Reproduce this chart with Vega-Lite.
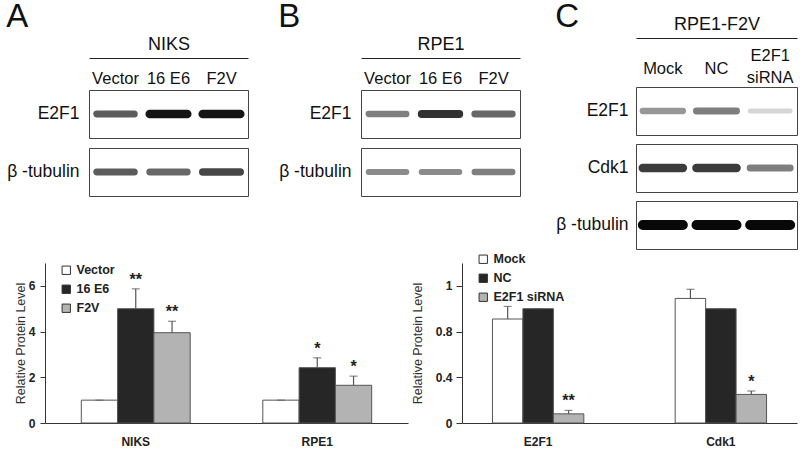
{
  "$schema": "https://vega.github.io/schema/vega-lite/v6.json",
  "padding": {"left": 6, "top": 1, "right": 0, "bottom": 0},
  "config": {
    "font": "Liberation Sans",
    "view": {"stroke": "#444", "strokeWidth": 1},
    "title": {"fontWeight": "normal", "color": "#111"}
  },
  "resolve": {"scale": {"fill": "independent", "stroke": "independent", "strokeWidth": "independent"}, "legend": {"fill": "independent"}},
  "spacing": 3,
  "vconcat": [
    {
      "spacing": 34,
      "resolve": {"scale": {"fill": "independent", "stroke": "independent", "strokeWidth": "independent"}},
      "hconcat": [
        {
          "spacing": 29,
          "hconcat": [
            {
              "title": {"text": "A", "anchor": "start", "fontSize": 33, "fontWeight": "normal", "offset": 1},
              "spacing": 0,
              "vconcat": [
                {
                  "width": 159, "height": 31, "view": {"stroke": null},
                  "data": {"values": [{"lane": "Vector"}, {"lane": "16 E6"}, {"lane": "F2V"}]},
                  "mark": {"type": "text", "fontSize": 16.5, "dy": 5, "color": "#111"},
                  "encoding": {
                    "x": {"field": "lane", "type": "nominal", "sort": null, "scale": {"paddingInner": 0, "paddingOuter": 0},
                      "axis": {"orient": "top", "labels": false, "ticks": false, "domainColor": "#222", "title": "NIKS", "titleFontSize": 18, "titleFontWeight": "normal", "titleColor": "#111", "titlePadding": 5}},
                    "text": {"field": "lane"}
                  }
                },
                {
                  "data": {"values": [
                    {"protein": "E2F1", "lane": "Vector", "intensity": 0.6},
                    {"protein": "E2F1", "lane": "16 E6", "intensity": 0.95},
                    {"protein": "E2F1", "lane": "F2V", "intensity": 0.95},
                    {"protein": "β -tubulin", "lane": "Vector", "intensity": 0.6},
                    {"protein": "β -tubulin", "lane": "16 E6", "intensity": 0.55},
                    {"protein": "β -tubulin", "lane": "F2V", "intensity": 0.7}
                  ]},
                  "facet": {"row": {"field": "protein", "type": "nominal", "sort": ["E2F1", "β -tubulin"], "header": null}},
                  "spacing": {"row": 8},
                  "resolve": {"scale": {"y": "independent"}, "axis": {"y": "independent"}},
                  "spec": {
                    "width": 159, "height": 48,
                    "mark": {"type": "rect", "width": {"band": 0.78}, "height": {"band": 0.08}, "cornerRadius": 2},
                    "encoding": {
                      "x": {"field": "lane", "type": "nominal", "sort": ["Vector", "16 E6", "F2V"], "axis": null, "scale": {"paddingInner": 0, "paddingOuter": 0}},
                      "y": {"field": "protein", "type": "nominal", "axis": {"title": null, "ticks": false, "domain": false, "labelFontSize": 17.5, "labelPadding": 10, "labelColor": "#111"}},
                      "fill": {"field": "intensity", "type": "quantitative", "scale": {"domain": [0, 1], "range": ["#f0f0f0", "#080808"]}, "legend": null},
                      "stroke": {"field": "intensity", "type": "quantitative", "scale": {"domain": [0, 1], "range": ["#f0f0f0", "#080808"]}, "legend": null},
                      "strokeWidth": {"field": "intensity", "type": "quantitative", "scale": {"domain": [0, 1], "range": [0.5, 5]}, "legend": null}
                    }
                  }
                }
              ]
            },
            {
              "title": {"text": "B", "anchor": "start", "fontSize": 33, "fontWeight": "normal", "offset": 1},
              "spacing": 0,
              "vconcat": [
                {
                  "width": 159, "height": 31, "view": {"stroke": null},
                  "data": {"values": [{"lane": "Vector"}, {"lane": "16 E6"}, {"lane": "F2V"}]},
                  "mark": {"type": "text", "fontSize": 16.5, "dy": 5, "color": "#111"},
                  "encoding": {
                    "x": {"field": "lane", "type": "nominal", "sort": null, "scale": {"paddingInner": 0, "paddingOuter": 0},
                      "axis": {"orient": "top", "labels": false, "ticks": false, "domainColor": "#222", "title": "RPE1", "titleFontSize": 18, "titleFontWeight": "normal", "titleColor": "#111", "titlePadding": 5}},
                    "text": {"field": "lane"}
                  }
                },
                {
                  "data": {"values": [
                    {"protein": "E2F1", "lane": "Vector", "intensity": 0.45},
                    {"protein": "E2F1", "lane": "16 E6", "intensity": 0.8},
                    {"protein": "E2F1", "lane": "F2V", "intensity": 0.55},
                    {"protein": "β -tubulin", "lane": "Vector", "intensity": 0.4},
                    {"protein": "β -tubulin", "lane": "16 E6", "intensity": 0.4},
                    {"protein": "β -tubulin", "lane": "F2V", "intensity": 0.45}
                  ]},
                  "facet": {"row": {"field": "protein", "type": "nominal", "sort": ["E2F1", "β -tubulin"], "header": null}},
                  "spacing": {"row": 8},
                  "resolve": {"scale": {"y": "independent"}, "axis": {"y": "independent"}},
                  "spec": {
                    "width": 159, "height": 48,
                    "mark": {"type": "rect", "width": {"band": 0.78}, "height": {"band": 0.08}, "cornerRadius": 2},
                    "encoding": {
                      "x": {"field": "lane", "type": "nominal", "sort": ["Vector", "16 E6", "F2V"], "axis": null, "scale": {"paddingInner": 0, "paddingOuter": 0}},
                      "y": {"field": "protein", "type": "nominal", "axis": {"title": null, "ticks": false, "domain": false, "labelFontSize": 17.5, "labelPadding": 10, "labelColor": "#111"}},
                      "fill": {"field": "intensity", "type": "quantitative", "scale": {"domain": [0, 1], "range": ["#f0f0f0", "#080808"]}, "legend": null},
                      "stroke": {"field": "intensity", "type": "quantitative", "scale": {"domain": [0, 1], "range": ["#f0f0f0", "#080808"]}, "legend": null},
                      "strokeWidth": {"field": "intensity", "type": "quantitative", "scale": {"domain": [0, 1], "range": [0.5, 5]}, "legend": null}
                    }
                  }
                }
              ]
            }
          ]
        },
        {
          "title": {"text": "C", "anchor": "start", "fontSize": 33, "fontWeight": "normal", "offset": -19},
          "spacing": 0,
          "vconcat": [
            {
              "width": 161, "height": 27, "view": {"stroke": null},
              "encoding": {
                "x": {"field": "lane", "type": "nominal", "sort": ["Mock", "NC", "E2F1\nsiRNA"], "scale": {"paddingInner": 0, "paddingOuter": 0},
                  "axis": {"orient": "top", "offset": 20, "labels": false, "ticks": false, "domainColor": "#222", "title": "RPE1-F2V", "titleFontSize": 18, "titleFontWeight": "normal", "titleColor": "#111", "titlePadding": 5}},
                "text": {"field": "lane"}
              },
              "layer": [
                {
                  "data": {"values": [{"lane": "Mock"}, {"lane": "NC"}]},
                  "mark": {"type": "text", "fontSize": 16.5, "dy": -3, "color": "#111"}
                },
                {
                  "data": {"values": [{"lane": "E2F1\nsiRNA"}]},
                  "mark": {"type": "text", "fontSize": 16.5, "dy": -16, "color": "#111", "lineBreak": "\n", "lineHeight": 22}
                }
              ]
            },
            {
              "data": {"values": [
                {"protein": "E2F1", "lane": "Mock", "intensity": 0.35},
                {"protein": "E2F1", "lane": "NC", "intensity": 0.45},
                {"protein": "E2F1", "lane": "E2F1 siRNA", "intensity": 0.1},
                {"protein": "Cdk1", "lane": "Mock", "intensity": 0.75},
                {"protein": "Cdk1", "lane": "NC", "intensity": 0.75},
                {"protein": "Cdk1", "lane": "E2F1 siRNA", "intensity": 0.45},
                {"protein": "β -tubulin", "lane": "Mock", "intensity": 1.0},
                {"protein": "β -tubulin", "lane": "NC", "intensity": 1.0},
                {"protein": "β -tubulin", "lane": "E2F1 siRNA", "intensity": 1.0}
              ]},
              "facet": {"row": {"field": "protein", "type": "nominal", "sort": ["E2F1", "Cdk1", "β -tubulin"], "header": null}},
              "spacing": {"row": 7},
              "resolve": {"scale": {"y": "independent"}, "axis": {"y": "independent"}},
              "spec": {
                "width": 161, "height": 48,
                "mark": {"type": "rect", "width": {"band": 0.82}, "height": {"band": 0.08}, "cornerRadius": 2},
                "encoding": {
                  "x": {"field": "lane", "type": "nominal", "sort": ["Mock", "NC", "E2F1 siRNA"], "axis": null, "scale": {"paddingInner": 0, "paddingOuter": 0}},
                  "y": {"field": "protein", "type": "nominal", "axis": {"title": null, "ticks": false, "domain": false, "labelFontSize": 17.5, "labelPadding": 8, "labelColor": "#111"}},
                  "fill": {"field": "intensity", "type": "quantitative", "scale": {"domain": [0, 1], "range": ["#f0f0f0", "#080808"]}, "legend": null},
                  "stroke": {"field": "intensity", "type": "quantitative", "scale": {"domain": [0, 1], "range": ["#f0f0f0", "#080808"]}, "legend": null},
                  "strokeWidth": {"field": "intensity", "type": "quantitative", "scale": {"domain": [0, 1], "range": [0.5, 6]}, "legend": null}
                }
              }
            }
          ]
        }
      ]
    },
    {
      "spacing": -41,
      "resolve": {"scale": {"fill": "independent"}, "legend": {"fill": "independent"}},
      "hconcat": [
        {
          "width": 319, "height": 160, "view": {"stroke": null},
          "data": {"values": [
            {"key": "NIKS/Vector", "cell": "NIKS", "cond": "Vector", "value": 1.0, "upper": 1.0, "sig": ""},
            {"key": "NIKS/16 E6", "cell": "NIKS", "cond": "16 E6", "value": 5.0, "upper": 5.87, "sig": "**"},
            {"key": "NIKS/F2V", "cell": "NIKS", "cond": "F2V", "value": 3.95, "upper": 4.45, "sig": "**"},
            {"key": "RPE1/Vector", "cell": "RPE1", "cond": "Vector", "value": 1.0, "upper": 1.0, "sig": ""},
            {"key": "RPE1/16 E6", "cell": "RPE1", "cond": "16 E6", "value": 2.42, "upper": 2.85, "sig": "*"},
            {"key": "RPE1/F2V", "cell": "RPE1", "cond": "F2V", "value": 1.65, "upper": 2.05, "sig": "*"}
          ]},
          "encoding": {
            "x": {"field": "key", "type": "nominal",
              "scale": {"type": "band", "domain": ["NIKS/Vector", "NIKS/16 E6", "NIKS/F2V", "gap 1", "gap 2", "RPE1/Vector", "RPE1/16 E6", "RPE1/F2V"], "range": [-44, 319], "paddingInner": 0, "paddingOuter": 1},
              "axis": {"title": null, "ticks": false, "labelAngle": 0, "labelFontSize": 12, "labelFontWeight": "bold", "labelColor": "#222", "labelPadding": 13, "domainColor": "#333",
                "labelExpr": "indexof(datum.value, '/16 E6') >= 0 ? split(datum.value, '/')[0] : ''"}}
          },
          "layer": [
            {
              "mark": {"type": "bar", "stroke": "#555", "strokeWidth": 1},
              "encoding": {
                "y": {"field": "value", "type": "quantitative", "title": "Relative Protein Level", "scale": {"domain": [0, 7]},
                  "axis": {"offset": 44, "values": [0, 1, 2, 3, 4, 5, 6, 7], "grid": false, "tickSize": 5, "labelPadding": 5, "labelFontSize": 12, "labelFontWeight": "bold", "labelColor": "#222", "tickColor": "#333", "domainColor": "#333", "titleFontSize": 12.5, "titleFontWeight": "normal", "titleColor": "#333", "titlePadding": 1}},
                "fill": {"field": "cond", "type": "nominal", "sort": ["Vector", "16 E6", "F2V"],
                  "scale": {"domain": ["Vector", "16 E6", "F2V"], "range": ["#ffffff", "#262626", "#b3b3b3"]},
                  "legend": {"title": null, "orient": "none", "legendX": -29, "legendY": 1, "symbolType": "square", "symbolSize": 70, "symbolStrokeColor": "#333", "symbolStrokeWidth": 1, "labelFontSize": 12.5, "labelFontWeight": "bold", "labelColor": "#222", "rowPadding": 6, "labelOffset": 4}}
              }
            },
            {
              "mark": {"type": "rule", "color": "#555", "strokeWidth": 1.2},
              "encoding": {"y": {"field": "value", "type": "quantitative", "title": "Relative Protein Level"}, "y2": {"field": "upper"}}
            },
            {
              "mark": {"type": "tick", "color": "#555", "size": 8, "thickness": 1.2},
              "encoding": {"y": {"field": "upper", "type": "quantitative", "title": "Relative Protein Level"}}
            },
            {
              "mark": {"type": "text", "fontSize": 16, "fontWeight": "bold", "baseline": "bottom", "dy": -1, "color": "#222"},
              "encoding": {"y": {"field": "upper", "type": "quantitative", "title": "Relative Protein Level"}, "text": {"field": "sig"}}
            }
          ]
        },
        {
          "width": 335, "height": 160, "view": {"stroke": null},
          "data": {"values": [
            {"key": "E2F1/Mock", "target": "E2F1", "cond": "Mock", "value": 0.91, "upper": 1.02, "sig": ""},
            {"key": "E2F1/NC", "target": "E2F1", "cond": "NC", "value": 1.0, "upper": 1.0, "sig": ""},
            {"key": "E2F1/E2F1 siRNA", "target": "E2F1", "cond": "E2F1 siRNA", "value": 0.08, "upper": 0.11, "sig": "**"},
            {"key": "Cdk1/Mock", "target": "Cdk1", "cond": "Mock", "value": 1.09, "upper": 1.17, "sig": ""},
            {"key": "Cdk1/NC", "target": "Cdk1", "cond": "NC", "value": 1.0, "upper": 1.0, "sig": ""},
            {"key": "Cdk1/E2F1 siRNA", "target": "Cdk1", "cond": "E2F1 siRNA", "value": 0.25, "upper": 0.28, "sig": "*"}
          ]},
          "encoding": {
            "x": {"field": "key", "type": "nominal",
              "scale": {"type": "band", "domain": ["E2F1/Mock", "E2F1/NC", "E2F1/E2F1 siRNA", "gap 1", "gap 2", "gap 3", "Cdk1/Mock", "Cdk1/NC", "Cdk1/E2F1 siRNA"], "paddingInner": 0, "paddingOuter": 1},
              "axis": {"title": null, "ticks": false, "labelAngle": 0, "labelFontSize": 12, "labelFontWeight": "bold", "labelColor": "#222", "labelPadding": 13, "domainColor": "#333",
                "labelExpr": "indexof(datum.value, '/NC') >= 0 ? split(datum.value, '/')[0] : ''"}}
          },
          "layer": [
            {
              "mark": {"type": "bar", "stroke": "#555", "strokeWidth": 1},
              "encoding": {
                "y": {"field": "value", "type": "quantitative", "title": "Relative Protein Level", "scale": {"domain": [0, 1.4]},
                  "axis": {"values": [0, 0.2, 0.4, 0.6, 0.8, 1, 1.2, 1.4], "format": "~g", "grid": false, "tickSize": 6, "labelPadding": 4, "labelFontSize": 12, "labelFontWeight": "bold", "labelColor": "#222", "tickColor": "#333", "domainColor": "#333", "titleFontSize": 12.5, "titleFontWeight": "normal", "titleColor": "#333", "titlePadding": 11}},
                "fill": {"field": "cond", "type": "nominal", "sort": ["Mock", "NC", "E2F1 siRNA"],
                  "scale": {"domain": ["Mock", "NC", "E2F1 siRNA"], "range": ["#ffffff", "#262626", "#b3b3b3"]},
                  "legend": {"title": null, "orient": "none", "legendX": 15, "legendY": -10, "symbolType": "square", "symbolSize": 70, "symbolStrokeColor": "#333", "symbolStrokeWidth": 1, "labelFontSize": 12.5, "labelFontWeight": "bold", "labelColor": "#222", "rowPadding": 6, "labelOffset": 4}}
              }
            },
            {
              "mark": {"type": "rule", "color": "#555", "strokeWidth": 1.2},
              "encoding": {"y": {"field": "value", "type": "quantitative", "title": "Relative Protein Level"}, "y2": {"field": "upper"}}
            },
            {
              "mark": {"type": "tick", "color": "#555", "size": 8, "thickness": 1.2},
              "encoding": {"y": {"field": "upper", "type": "quantitative", "title": "Relative Protein Level"}}
            },
            {
              "mark": {"type": "text", "fontSize": 16, "fontWeight": "bold", "baseline": "bottom", "dy": -1, "color": "#222"},
              "encoding": {"y": {"field": "upper", "type": "quantitative", "title": "Relative Protein Level"}, "text": {"field": "sig"}}
            }
          ]
        }
      ]
    }
  ]
}
